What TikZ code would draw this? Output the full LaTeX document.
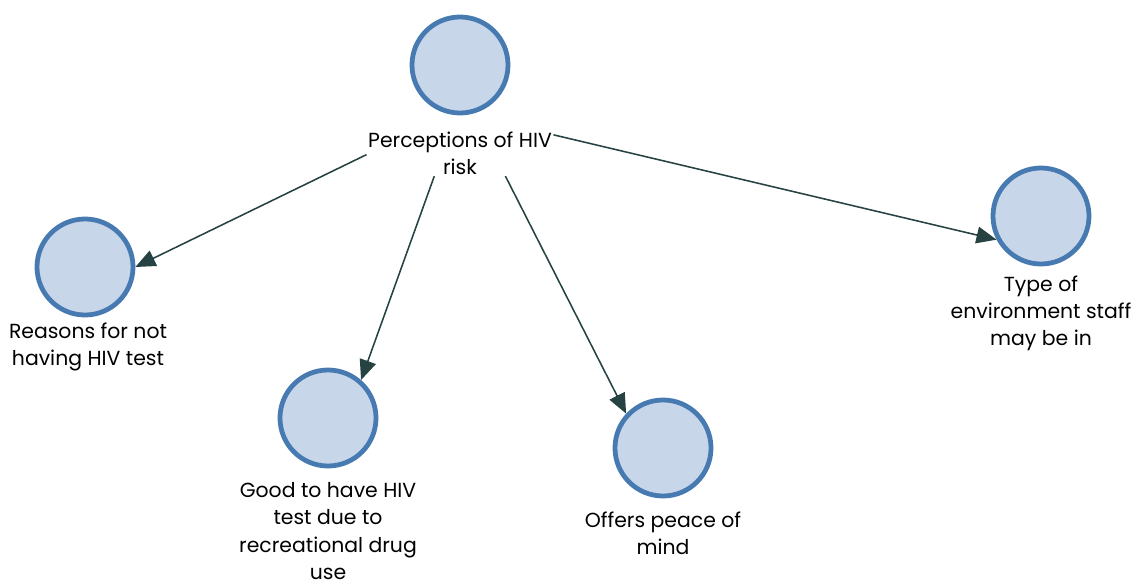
\documentclass[tikz,border=0pt]{standalone}
\usepackage{fontspec}
\setmainfont{Poppins}
\usetikzlibrary{arrows.meta}
\definecolor{circfill}{RGB}{200,214,234}
\definecolor{circline}{RGB}{72,122,178}
\definecolor{arrline}{RGB}{38,66,66}

\begin{document}
\begin{tikzpicture}[x=0.025cm, y=-0.025cm,
    circ/.style={circle, draw=circline, fill=circfill, line width=3.4pt, minimum size=2.4cm, inner sep=0pt},
    lbl/.style={align=center, font=\fontsize{14.5}{19.3}\selectfont, inner sep=1pt},
    arr/.style={draw=arrline, line width=1.1pt, -{Triangle[length=0.5cm, width=0.42cm]}}]
\useasboundingbox (0,0) rectangle (1137,585);
\node[circ] (top) at (460,65) {};
\node[lbl] (toplbl) at (460,153) {Perceptions of HIV\\risk};
\node[circ] (reasons) at (85,267) {};
\node[lbl] (reasonslbl) at (88,347) {Reasons for not\\having HIV test};
\node[circ] (good) at (328,418) {};
\node[lbl] (goodlbl) at (328,531) {Good to have HIV\\test due to\\recreational drug\\use};
\node[circ] (peace) at (663,448) {};
\node[lbl] (peacelbl) at (663,533) {Offers peace of\\mind};
\node[circ] (envir) at (1041,216) {};
\node[lbl] (envirlbl) at (1041,313) {Type of\\environment staff\\may be in};
% connectors
\draw[arr] (toplbl.181) -- (reasons.0);
\draw[arr] (toplbl.222) -- (good.49);
\draw[arr] (toplbl.333) -- (peace.137);
\draw[arr] (toplbl.11) -- (envir.208);
\end{tikzpicture}
\end{document}
